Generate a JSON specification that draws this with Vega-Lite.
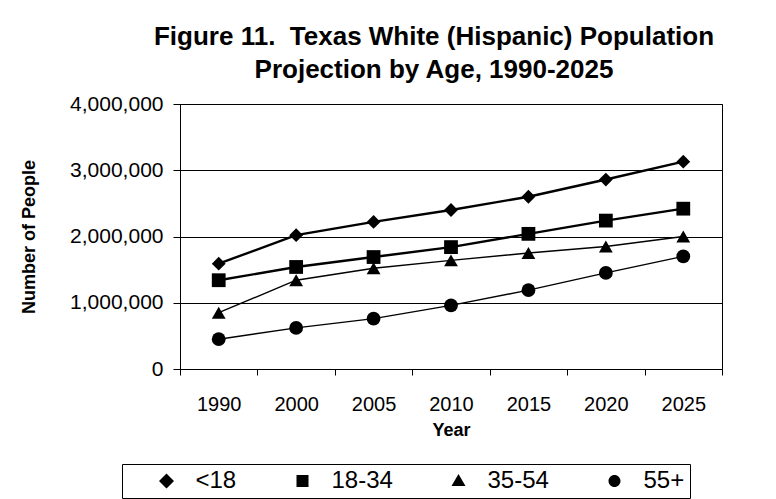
{
  "$schema": "https://vega.github.io/schema/vega-lite/v6.json",
  "autosize": {"type": "none"},
  "width": 542,
  "height": 265,
  "padding": {"left": 180, "top": 104, "right": 54, "bottom": 130},
  "background": "white",
  "config": {
    "font": "Liberation Sans",
    "view": {"stroke": "black", "strokeWidth": 1}
  },
  "title": {
    "text": ["Figure 11.\u00a0 Texas White (Hispanic) Population", "Projection by Age, 1990-2025"],
    "font": "Liberation Sans",
    "fontSize": 26,
    "fontWeight": "bold",
    "color": "black",
    "anchor": "middle",
    "frame": "group",
    "dx": -17,
    "offset": 10,
    "lineHeight": 33
  },
  "data": {
    "values": [
      {"year": "1990", "group": "<18", "value": 1590000},
      {"year": "2000", "group": "<18", "value": 2020000},
      {"year": "2005", "group": "<18", "value": 2220000},
      {"year": "2010", "group": "<18", "value": 2400000},
      {"year": "2015", "group": "<18", "value": 2600000},
      {"year": "2020", "group": "<18", "value": 2860000},
      {"year": "2025", "group": "<18", "value": 3130000},
      {"year": "1990", "group": "18-34", "value": 1340000},
      {"year": "2000", "group": "18-34", "value": 1540000},
      {"year": "2005", "group": "18-34", "value": 1690000},
      {"year": "2010", "group": "18-34", "value": 1840000},
      {"year": "2015", "group": "18-34", "value": 2040000},
      {"year": "2020", "group": "18-34", "value": 2240000},
      {"year": "2025", "group": "18-34", "value": 2420000},
      {"year": "1990", "group": "35-54", "value": 850000},
      {"year": "2000", "group": "35-54", "value": 1340000},
      {"year": "2005", "group": "35-54", "value": 1520000},
      {"year": "2010", "group": "35-54", "value": 1640000},
      {"year": "2015", "group": "35-54", "value": 1750000},
      {"year": "2020", "group": "35-54", "value": 1850000},
      {"year": "2025", "group": "35-54", "value": 2000000},
      {"year": "1990", "group": "55+", "value": 450000},
      {"year": "2000", "group": "55+", "value": 620000},
      {"year": "2005", "group": "55+", "value": 760000},
      {"year": "2010", "group": "55+", "value": 960000},
      {"year": "2015", "group": "55+", "value": 1190000},
      {"year": "2020", "group": "55+", "value": 1450000},
      {"year": "2025", "group": "55+", "value": 1700000}
    ]
  },
  "encoding": {
    "x": {
      "field": "year",
      "type": "ordinal",
      "bandPosition": 0.5,
      "scale": {"type": "band", "paddingInner": 0, "paddingOuter": 0},
      "axis": {
        "title": "Year",
        "titleFont": "Liberation Sans",
        "titleFontSize": 18,
        "titleFontWeight": "bold",
        "titleColor": "black",
        "titleBaseline": "middle",
        "titleY": 61,
        "labelAngle": 0,
        "labelFont": "Liberation Sans",
        "labelFontSize": 20,
        "labelColor": "black",
        "labelPadding": 19,
        "tickBand": "extent",
        "tickSize": 6,
        "tickColor": "black",
        "domainColor": "black",
        "grid": false
      }
    },
    "y": {
      "field": "value",
      "type": "quantitative",
      "scale": {"domain": [0, 4000000], "nice": false},
      "axis": {
        "title": "Number of People",
        "titleFont": "Liberation Sans",
        "titleFontSize": 18,
        "titleFontWeight": "bold",
        "titleColor": "black",
        "titleBaseline": "middle",
        "titleX": -151,
        "values": [0, 1000000, 2000000, 3000000, 4000000],
        "format": ",d",
        "labelFont": "Liberation Sans",
        "labelFontSize": 21,
        "labelColor": "black",
        "labelPadding": 10,
        "tickSize": 7,
        "tickColor": "black",
        "domainColor": "black",
        "grid": true,
        "gridColor": "black",
        "gridWidth": 1
      }
    }
  },
  "resolve": {"scale": {"shape": "independent"}},
  "layer": [
    {
      "transform": [{"filter": {"field": "group", "oneOf": ["<18", "18-34"]}}],
      "mark": {"type": "line", "color": "black", "strokeWidth": 2.4},
      "encoding": {"detail": {"field": "group"}}
    },
    {
      "transform": [{"filter": {"field": "group", "oneOf": ["35-54", "55+"]}}],
      "mark": {"type": "line", "color": "black", "strokeWidth": 1.4},
      "encoding": {"detail": {"field": "group"}}
    },
    {
      "mark": {"type": "point", "filled": true, "fill": "black", "stroke": "black", "strokeWidth": 1.6, "size": 1},
      "encoding": {
        "shape": {
          "field": "group",
          "type": "nominal",
          "scale": {
            "domain": ["<18", "18-34", "35-54", "55+"],
            "range": [
              "M-2.75,0H2.75M-0.75,0L0,-0.75L0.75,0L0,0.75Z",
              "M-2.75,0H2.75M-0.6,-0.6H0.6V0.6H-0.6Z",
              "M-2.75,0H2.75M-0.7,0.5L0,-0.7L0.7,0.5Z",
              "M-2.75,0H2.75M-0.6,0A0.6,0.6,0,1,0,0.6,0A0.6,0.6,0,1,0,-0.6,0Z"
            ]
          },
          "legend": {
            "title": null,
            "orient": "none",
            "legendX": -58,
            "legendY": 360,
            "direction": "horizontal",
            "strokeColor": "black",
            "padding": 5,
            "columnPadding": 26,
            "symbolSize": 400,
            "symbolOffset": 27.5,
            "labelOffset": 17,
            "symbolOpacity": 1,
            "symbolFillColor": "black",
            "symbolStrokeColor": "black",
            "symbolStrokeWidth": 1.6,
            "labelFont": "Liberation Sans",
            "labelFontSize": 24,
            "labelColor": "black",
            "labelLimit": 200
          }
        }
      }
    },
    {
      "mark": {"type": "point", "filled": true, "color": "black", "opacity": 1, "size": 190},
      "encoding": {
        "shape": {
          "field": "group",
          "type": "nominal",
          "scale": {"domain": ["<18", "18-34", "35-54", "55+"], "range": ["diamond", "square", "triangle-up", "circle"]},
          "legend": null
        }
      }
    }
  ]
}
